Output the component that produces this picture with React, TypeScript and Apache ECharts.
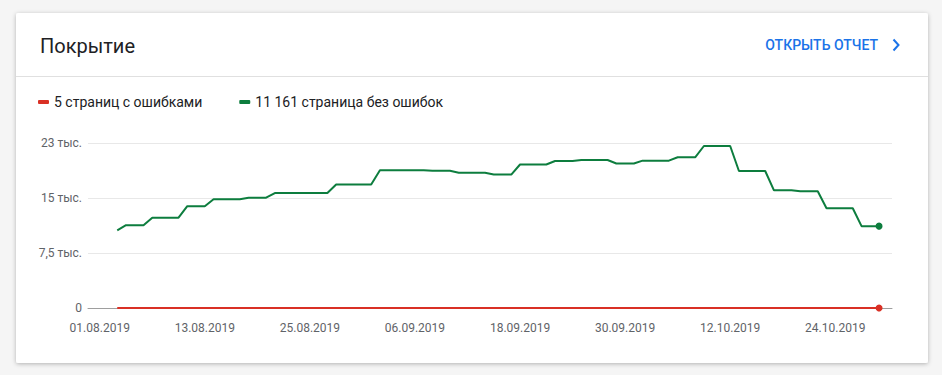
import React, { useEffect, useRef } from "react";
import * as echarts from "echarts";

const DAY = 86400000;
const firstPointDate = "03.08.2019";

const legendNames = ["5 страниц с ошибками", "11 161 страница без ошибок"];

const errorValues = [
  5, 5, 5, 5, 5, 5, 5, 5, 5, 5, 5, 5, 5, 5, 5, 5, 5, 5, 5, 5, 5, 5,
  5, 5, 5, 5, 5, 5, 5, 5, 5, 5, 5, 5, 5, 5, 5, 5, 5, 5, 5, 5, 5, 5,
  5, 5, 5, 5, 5, 5, 5, 5, 5, 5, 5, 5, 5, 5, 5, 5, 5, 5, 5, 5, 5, 5,
  5, 5, 5, 5, 5, 5, 5, 5, 5, 5, 5, 5, 5, 5, 5, 5, 5, 5, 5, 5, 5, 5,
];

const okValues = [
  10600,
  11290, 11290, 11290,
  12310, 12310, 12310, 12310,
  13880, 13880, 13880,
  14840, 14840, 14840, 14840,
  15040, 15040, 15040,
  15680, 15680, 15680, 15680, 15680, 15680, 15680,
  16840, 16840, 16840, 16840, 16840,
  18780, 18780, 18780, 18780, 18780, 18780,
  18710, 18710, 18710,
  18450, 18450, 18450, 18450,
  18200, 18200, 18200,
  19570, 19570, 19570, 19570,
  20050, 20050, 20050,
  20180, 20180, 20180, 20180,
  19700, 19700, 19700,
  20090, 20090, 20090, 20090,
  20550, 20550, 20550,
  22090, 22090, 22090, 22090,
  18680, 18680, 18680, 18680,
  16050, 16050, 16050,
  15910, 15910, 15910,
  13600, 13600, 13600, 13600,
  11161, 11161, 11161,
];

const xTickLabels = [
  "01.08.2019",
  "13.08.2019",
  "25.08.2019",
  "06.09.2019",
  "18.09.2019",
  "30.09.2019",
  "12.10.2019",
  "24.10.2019",
];

const yTickLabels = ["0", "7,5 тыс.", "15 тыс.", "23 тыс."];
const yStep = 7500;

function parseDate(s: string): number {
  const [d, m, y] = s.split(".").map(Number);
  return Date.UTC(y, m - 1, d);
}

function fmtDate(ts: number): string {
  const dt = new Date(ts);
  const p = (n: number) => (n < 10 ? "0" + n : "" + n);
  return p(dt.getUTCDate()) + "." + p(dt.getUTCMonth() + 1) + "." + dt.getUTCFullYear();
}

export default function App() {
  const ref = useRef<HTMLDivElement>(null);

  useEffect(() => {
    document.body.style.margin = "0";
    document.body.style.background = "#f5f5f5";
    if (!ref.current) return;
    const chart = echarts.init(ref.current, undefined, { renderer: "svg" });

    const origin = parseDate(xTickLabels[0]);
    const toDay = (ts: number) => Math.round((ts - origin) / DAY);
    const startDay = toDay(parseDate(firstPointDate));
    const tickDays = xTickLabels.map((s) => toDay(parseDate(s)));
    const lastIdx = okValues.length - 1;

    const okData = okValues.map((v, i) =>
      i === lastIdx
        ? { value: [startDay + i, v], symbol: "circle", symbolSize: 7 }
        : { value: [startDay + i, v] }
    );
    const errData = errorValues.map((v, i) =>
      i === errorValues.length - 1
        ? { value: [startDay + i, v], symbol: "circle", symbolSize: 7 }
        : { value: [startDay + i, v] }
    );

    const font = "Roboto, 'Noto Sans', Arial, sans-serif";

    chart.setOption({
      animation: false,
      backgroundColor: "#f5f5f5",
      textStyle: { fontFamily: font },
      graphic: [
        {
          type: "rect",
          z: -100,
          shape: { x: 16, y: 13, width: 912, height: 350, r: 2 },
          style: {
            fill: "#ffffff",
            shadowBlur: 4,
            shadowOffsetY: 1,
            shadowColor: "rgba(0,0,0,0.28)",
          },
        },
        {
          type: "line",
          z: -50,
          shape: { x1: 16, y1: 76.5, x2: 928, y2: 76.5 },
          style: { stroke: "#e0e0e0", lineWidth: 1 },
        },
        {
          type: "text",
          x: 40,
          y: 46,
          style: {
            text: "Покрытие",
            fontSize: 20,
            fontFamily: font,
            fill: "#202124",
            verticalAlign: "middle",
            align: "left",
          },
        },
        {
          type: "text",
          x: 878,
          y: 45,
          style: {
            text: "ОТКРЫТЬ ОТЧЕТ",
            fontSize: 14,
            fontWeight: 500,
            fontFamily: font,
            fill: "#1a73e8",
            verticalAlign: "middle",
            align: "right",
          },
        },
        {
          type: "polyline",
          shape: { points: [[893.5, 39.5], [898.5, 45], [893.5, 50.5]] },
          style: { stroke: "#1a73e8", lineWidth: 2, fill: "none" },
        },
      ],
      legend: {
        left: 33,
        top: 90,
        icon: "roundRect",
        itemWidth: 11,
        itemHeight: 4,
        itemGap: 37,
        selectedMode: false,
        textStyle: { fontSize: 14, color: "#202124", fontFamily: font },
        data: legendNames,
      },
      grid: { left: 88, right: 50, top: 143, bottom: 67, containLabel: false },
      xAxis: {
        type: "value",
        min: -1.34,
        max: 90.48,
        axisLine: { show: true, lineStyle: { color: "#9e9e9e", width: 1 } },
        axisTick: { show: false },
        splitLine: { show: false },
        axisLabel: {
          customValues: tickDays,
          formatter: (v: number) => fmtDate(origin + Math.round(v) * DAY),
          color: "#5f6368",
          fontSize: 12,
          margin: 14,
          fontFamily: font,
        },
      },
      yAxis: {
        type: "value",
        min: 0,
        max: yStep * (yTickLabels.length - 1),
        interval: yStep,
        axisLine: { show: false },
        axisTick: { show: false },
        splitLine: { lineStyle: { color: "#e8e8e8", width: 1 } },
        axisLabel: {
          formatter: (v: number) => yTickLabels[Math.round(v / yStep)] ?? "",
          color: "#5f6368",
          fontSize: 12,
          margin: 6,
          fontFamily: font,
        },
      },
      series: [
        {
          name: legendNames[0],
          type: "line",
          data: errData,
          symbol: "none",
          showSymbol: true,
          lineStyle: { color: "#d93025", width: 2 },
          itemStyle: { color: "#d93025" },
          z: 3,
        },
        {
          name: legendNames[1],
          type: "line",
          data: okData,
          symbol: "none",
          showSymbol: true,
          lineStyle: { color: "#0d7d3e", width: 2 },
          itemStyle: { color: "#0d7d3e" },
          z: 4,
        },
      ],
    });

    return () => chart.dispose();
  }, []);

  return <div ref={ref} style={{ width: 942, height: 375 }} />;
}
